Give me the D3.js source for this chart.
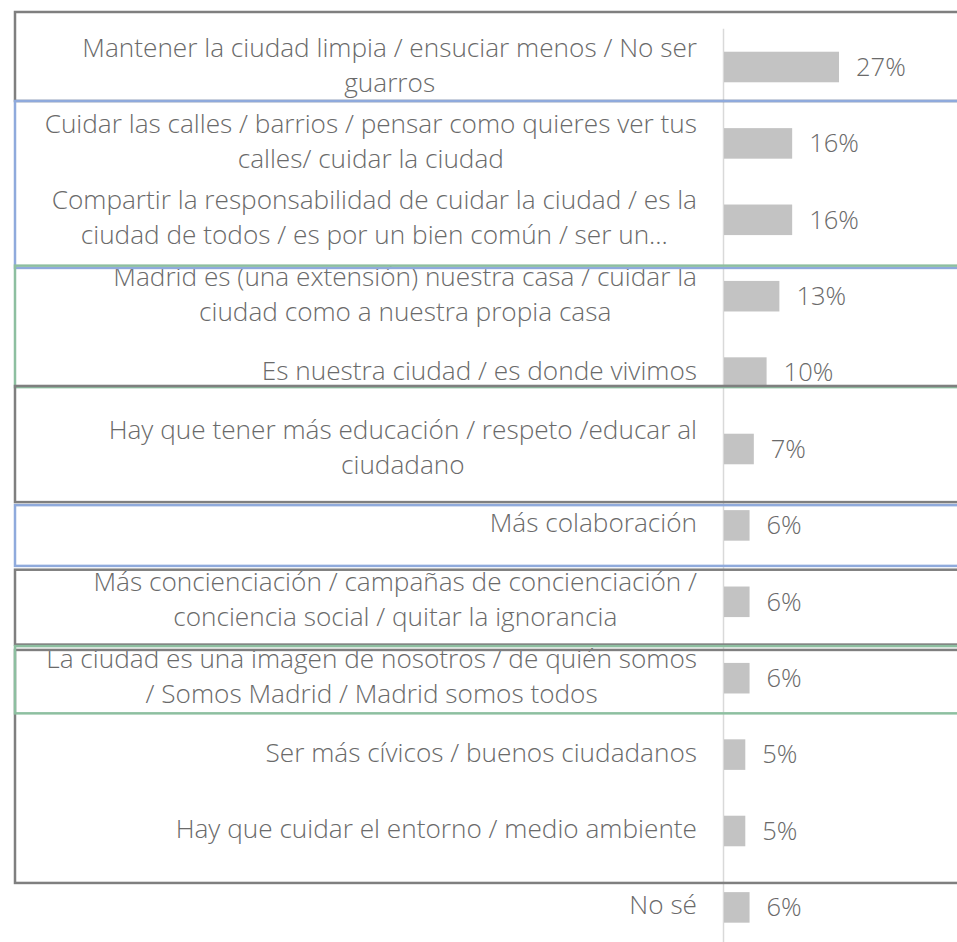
<!DOCTYPE html>
<head>
  <meta charset="utf-8">
  <title>Razones para cuidar Madrid</title>
  <script src="https://d3js.org/d3.v7.min.js"></script>
  <style>
    body { margin: 0; background: #fff; }
    text { font-family: "Open Sans", "Noto Sans", sans-serif; font-weight: 300; }
  </style>
</head>
<body>
<svg width="957" height="942"></svg>

<script type="text/javascript">

// category labels, "\n" marks the line breaks of the original
var categories = [
  "Mantener la ciudad limpia / ensuciar menos / No ser\nguarros",
  "Cuidar las calles / barrios / pensar como quieres ver tus\ncalles/ cuidar la ciudad",
  "Compartir la responsabilidad de cuidar la ciudad / es la\nciudad de todos /  es por un bien común / ser un...",
  "Madrid es (una extensión) nuestra casa / cuidar la\nciudad como a nuestra propia casa",
  "Es nuestra ciudad / es donde vivimos",
  "Hay que tener más educación / respeto /educar al\nciudadano",
  "Más colaboración",
  "Más concienciación / campañas de concienciación /\nconciencia social / quitar la ignorancia",
  "La ciudad es una imagen de nosotros / de quién somos\n/ Somos Madrid / Madrid somos todos",
  "Ser más cívicos / buenos ciudadanos",
  "Hay que cuidar el entorno / medio ambiente",
  "No sé"
];

var values = [27, 16, 16, 13, 10, 7, 6, 6, 6, 5, 5, 6];

// frames drawn over the chart, in row units (0 = top of first row)
var frames = [
  { from: -0.22, to: 0.945, color: "#7f7f7f" },
  { from: 8.13,  to: 11.18, color: "#7f7f7f" },
  { from: 0.945, to: 3.13,  color: "#8faadc" },
  { from: 3.10,  to: 4.69,  color: "#8dbfa0" },
  { from: 4.675, to: 6.195, color: "#7f7f7f" },
  { from: 6.235, to: 7.03,  color: "#8faadc" },
  { from: 7.08,  to: 8.06,  color: "#7f7f7f" },
  { from: 8.08,  to: 8.96,  color: "#8dbfa0" }
];

var svg = d3.select("svg");

var plotTop = 28.8, plotBottom = 945.6;
var axisX = 723.5, labelRight = 697;

var y = d3.scaleBand()
  .domain(d3.range(categories.length))
  .range([plotTop, plotBottom])
  .paddingInner(0.6)
  .paddingOuter(0.3);

var rows = d3.scaleLinear().domain([0, categories.length]).range([plotTop, plotBottom]);

var x = d3.scaleLinear().domain([0, 100]).range([axisX + 0.5, axisX + 0.5 + 426]);

// vertical axis line
svg.append("line")
  .attr("x1", axisX).attr("x2", axisX)
  .attr("y1", plotTop).attr("y2", plotBottom)
  .style("stroke", "#d9d9d9")
  .style("stroke-width", 1.5);

// bars
svg.selectAll("rect.bar")
  .data(values)
  .enter().append("rect")
    .attr("class", "bar")
    .attr("x", x(0))
    .attr("y", function(d, i) { return y(i); })
    .attr("width", function(d) { return x(d) - x(0); })
    .attr("height", y.bandwidth())
    .style("fill", "#c3c3c3");

// value labels
svg.selectAll("text.val")
  .data(values)
  .enter().append("text")
    .attr("class", "val")
    .attr("x", function(d) { return x(d) + 17; })
    .attr("y", function(d, i) { return y(i) + y.bandwidth() / 2 + 2; })
    .attr("dominant-baseline", "middle")
    .style("font-size", "25.5px")
    .style("fill", "#6a6a6a")
    .text(function(d) { return d + "%"; });

// category labels: block right aligned, lines centred inside the block
var lineH = 35;
categories.forEach(function(c, i) {
  var lines = c.split("\n");
  var cy = y(i) + y.bandwidth() / 2;
  var t = svg.append("text")
    .attr("class", "cat")
    .style("font-size", "26.2px")
    .style("fill", "#6a6a6a")
    .attr("text-anchor", "middle")
    .attr("dominant-baseline", "middle");
  var spans = lines.map(function(l, j) {
    return t.append("tspan")
      .attr("y", cy + (j - (lines.length - 1) / 2) * lineH)
      .text(l);
  });
  var w = d3.max(spans, function(s) { return s.node().getComputedTextLength(); });
  spans.forEach(function(s) { s.attr("x", labelRight - w / 2); });
});

// group frames
svg.selectAll("rect.frame")
  .data(frames)
  .enter().append("rect")
    .attr("class", "frame")
    .attr("x", 15)
    .attr("y", function(d) { return rows(d.from); })
    .attr("width", 1000)
    .attr("height", function(d) { return rows(d.to) - rows(d.from); })
    .style("fill", "none")
    .style("stroke", function(d) { return d.color; })
    .style("stroke-width", 2.5);

</script>
</body>
</html>
